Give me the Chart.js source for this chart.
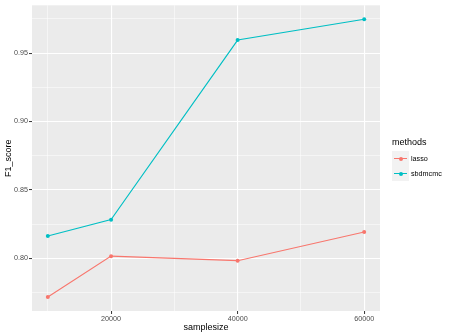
<!DOCTYPE html>
<html>
<head>
<meta charset="utf-8">
<script src="https://cdn.jsdelivr.net/npm/chart.js@4"></script>
<style>
  body { margin: 0; background: #ffffff; }
  #wrap { position: relative; width: 449px; height: 336px; font-family: "Liberation Sans", Arial, sans-serif; }
  #legend { position: absolute; left: 392px; top: 137px; }
  #legend .title { font-size: 9px; color: #000000; margin-bottom: 4px; }
  #legend .row { display: flex; align-items: center; height: 15px; }
  #legend .key { position: relative; width: 17px; height: 15px; background: #f2f2f2; }
  #legend .key .ln { position: absolute; left: 2px; right: 2px; top: 7px; height: 1px; }
  #legend .key .pt { position: absolute; left: 6.5px; top: 5.5px; width: 4px; height: 4px; border-radius: 50%; }
  #legend .lab { font-size: 7.2px; color: #000000; margin-left: 2px; }
</style>
</head>
<body>
<div id="wrap">
  <canvas id="chart" width="449" height="336"></canvas>
  <div id="legend"></div>
</div>
<script>
// Data
var sampleSizes = [10000, 20000, 40000, 60000];
var lassoScores = [0.7716, 0.8015, 0.7982, 0.8192];
var sbdmcmcScores = [0.8162, 0.8282, 0.9595, 0.9747];
var methodNames = ['lasso', 'sbdmcmc'];
var methodColors = ['#F8766D', '#00BFC4'];
var xTicks = [10000, 20000, 30000, 40000, 50000, 60000];
var xMajor = [20000, 40000, 60000];
var yTicks = [0.775, 0.80, 0.825, 0.85, 0.875, 0.90, 0.925, 0.95, 0.975];
var yMajor = [0.80, 0.85, 0.90, 0.95];

var fontFamily = '"Liberation Sans", Arial, sans-serif';

function isMajor(list, v) {
    return list.some(function (m) { return Math.abs(m - v) < 1e-9; });
}

function toPoints(xs, ys) {
    return xs.map(function (x, i) { return { x: x, y: ys[i] }; });
}

// Panel background
var panelBg = {
    id: 'panelBg',
    beforeDraw: function (chart) {
        var a = chart.chartArea;
        var ctx = chart.ctx;
        ctx.save();
        ctx.fillStyle = '#EBEBEB';
        ctx.fillRect(a.left, a.top, a.right - a.left, a.bottom - a.top);
        ctx.restore();
    }
};

function gridOpts(major) {
    return {
        color: '#ffffff',
        lineWidth: function (c) { return c.tick && isMajor(major, c.tick.value) ? 1.1 : 0.5; },
        tickColor: function (c) { return c.tick && isMajor(major, c.tick.value) ? '#333333' : 'rgba(0,0,0,0)'; },
        tickLength: 3,
        tickWidth: 1,
        drawTicks: true
    };
}

var datasets = [lassoScores, sbdmcmcScores].map(function (ys, i) {
    return {
        label: methodNames[i],
        data: toPoints(sampleSizes, ys),
        borderColor: methodColors[i],
        backgroundColor: methodColors[i],
        borderWidth: 1.1,
        pointRadius: 2,
        pointBorderWidth: 0,
        pointHoverRadius: 2,
        tension: 0
    };
});

new Chart(document.getElementById('chart').getContext('2d'), {
    type: 'line',
    data: { datasets: datasets },
    options: {
        responsive: false,
        animation: false,
        events: [],
        layout: { padding: { left: 0, right: 69, top: 4, bottom: 0 } },
        plugins: {
            legend: { display: false },
            tooltip: { enabled: false }
        },
        scales: {
            x: {
                type: 'linear',
                min: 7500,
                max: 62500,
                afterBuildTicks: function (s) { s.ticks = xTicks.map(function (v) { return { value: v }; }); },
                afterFit: function (s) { s.height = 25; },
                border: { display: false },
                grid: gridOpts(xMajor),
                ticks: {
                    autoSkip: false,
                    maxRotation: 0,
                    padding: 1,
                    color: '#4D4D4D',
                    font: { family: fontFamily, size: 7.2 },
                    callback: function (v) { return isMajor(xMajor, v) ? String(v) : ''; }
                },
                title: {
                    display: true,
                    text: 'samplesize',
                    color: '#000000',
                    font: { family: fontFamily, size: 9 },
                    padding: { top: 0, bottom: 3 }
                }
            },
            y: {
                type: 'linear',
                min: 0.7614,
                max: 0.9849,
                afterBuildTicks: function (s) { s.ticks = yTicks.map(function (v) { return { value: v }; }); },
                afterFit: function (s) { s.width = 32; },
                border: { display: false },
                grid: gridOpts(yMajor),
                ticks: {
                    autoSkip: false,
                    padding: 1,
                    color: '#4D4D4D',
                    font: { family: fontFamily, size: 7.2 },
                    callback: function (v) { return isMajor(yMajor, v) ? v.toFixed(2) : ''; }
                },
                title: {
                    display: true,
                    text: 'F1_score',
                    color: '#000000',
                    font: { family: fontFamily, size: 9 },
                    padding: { top: 3, bottom: 0 }
                }
            }
        }
    },
    plugins: [panelBg]
});

// Legend (ggplot style)
var legend = document.getElementById('legend');
var html = '<div class="title">methods</div>';
methodNames.forEach(function (name, i) {
    html += '<div class="row"><div class="key">' +
        '<div class="ln" style="background:' + methodColors[i] + '"></div>' +
        '<div class="pt" style="background:' + methodColors[i] + '"></div>' +
        '</div><div class="lab">' + name + '</div></div>';
});
legend.innerHTML = html;
</script>
</body>
</html>
